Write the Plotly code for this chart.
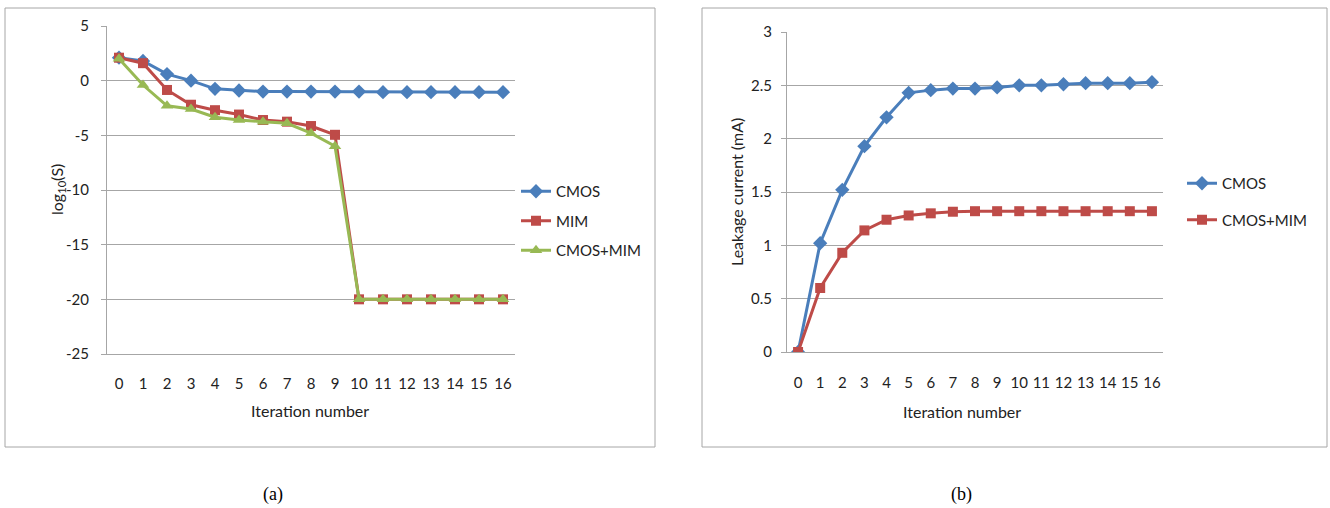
import plotly.graph_objects as go

iterations = list(range(17))
tick_labels = [str(i) for i in iterations]

# Chart (a): log10(S)
y_ticks_a = [5, 0, -5, -10, -15, -20, -25]
y_tick_labels_a = ["5", "0", "-5", "-10", "-15", "-20", "-25"]
cmos_a = [2.1, 1.8, 0.6, 0.0, -0.75, -0.9, -1.0, -1.0, -1.0, -1.0, -1.0, -1.05, -1.05, -1.05, -1.05, -1.05, -1.05]
mim_a = [2.1, 1.6, -0.85, -2.2, -2.7, -3.1, -3.6, -3.75, -4.15, -4.95, -20, -20, -20, -20, -20, -20, -20]
cmos_mim_a = [2.0, -0.4, -2.3, -2.6, -3.35, -3.6, -3.75, -3.9, -4.8, -6.0, -20, -20, -20, -20, -20, -20, -20]

# Chart (b): leakage current (mA)
y_ticks_b = [0, 0.5, 1, 1.5, 2, 2.5, 3]
y_tick_labels_b = ["0", "0.5", "1", "1.5", "2", "2.5", "3"]
cmos_b = [0.0, 1.02, 1.52, 1.93, 2.2, 2.43, 2.455, 2.47, 2.47, 2.48, 2.5, 2.5, 2.51, 2.52, 2.52, 2.52, 2.53]
cmos_mim_b = [0.0, 0.6, 0.93, 1.14, 1.24, 1.28, 1.30, 1.315, 1.32, 1.32, 1.32, 1.32, 1.32, 1.32, 1.32, 1.32, 1.32]

BLUE = "#4A7EBB"
RED = "#BE4B48"
GREEN = "#98B954"
GRID = "#A6A6A6"
TXT = "#222222"
FONT = "Lato"
W, H = 1330, 508

fig = go.Figure()

def add(x, y, name, color, symbol, size, xa, ya, legend, group):
    fig.add_trace(go.Scatter(
        x=x, y=y, name=name, mode="lines+markers",
        line=dict(color=color, width=3),
        marker=dict(symbol=symbol, size=size, color=color),
        xaxis=xa, yaxis=ya, legend=legend, legendgroup=group,
    ))

add(iterations, cmos_a, "CMOS", BLUE, "diamond", 11, "x", "y", "legend", "a1")
add(iterations, mim_a, "MIM", RED, "square", 10, "x", "y", "legend", "a2")
add(iterations, cmos_mim_a, "CMOS+MIM", GREEN, "triangle-up", 11, "x", "y", "legend", "a3")
add(iterations, cmos_b, "CMOS", BLUE, "diamond", 11, "x2", "y2", "legend2", "b1")
add(iterations, cmos_mim_b, "CMOS+MIM", RED, "square", 10, "x2", "y2", "legend2", "b2")

def px_x(p):
    return p / W

def px_y(p):
    return 1 - p / H

axis_common = dict(
    showline=True, linecolor=GRID, linewidth=1, mirror=False,
    tickfont=dict(family=FONT, size=15, color=TXT),
    zeroline=False, automargin=False,
)

fig.update_layout(
    width=W, height=H,
    margin=dict(l=0, r=0, t=0, b=0, autoexpand=False),
    paper_bgcolor="white", plot_bgcolor="white",
    font=dict(family=FONT, size=15, color=TXT),
    xaxis=dict(domain=[px_x(107), px_x(515)], range=[-0.5, 16.5],
               tickmode="array", tickvals=iterations, ticktext=tick_labels,
               showgrid=False, ticks="", ticklabelstandoff=16, anchor="y",
               **axis_common),
    yaxis=dict(domain=[px_y(354), px_y(26)], range=[-25, 5],
               tickmode="array", tickvals=y_ticks_a, ticktext=y_tick_labels_a,
               showgrid=True, gridcolor=GRID, gridwidth=1,
               ticks="outside", ticklen=5, tickcolor=GRID, ticklabelstandoff=9,
               anchor="x",
               **axis_common),
    xaxis2=dict(domain=[px_x(787), px_x(1163)], range=[-0.5, 16.5],
                tickmode="array", tickvals=iterations, ticktext=tick_labels,
                showgrid=False, ticks="", ticklabelstandoff=17, anchor="y2",
                **axis_common),
    yaxis2=dict(domain=[px_y(352), px_y(32)], range=[0, 3],
                tickmode="array", tickvals=y_ticks_b, ticktext=y_tick_labels_b,
                showgrid=True, gridcolor=GRID, gridwidth=1,
                ticks="outside", ticklen=5, tickcolor=GRID, ticklabelstandoff=6,
                anchor="x2",
                **axis_common),
    legend=dict(x=px_x(516), y=px_y(175), xanchor="left", yanchor="top",
                font=dict(family=FONT, size=15, color=TXT),
                bgcolor="rgba(0,0,0,0)", tracegroupgap=7, itemwidth=30),
    legend2=dict(x=px_x(1182), y=px_y(167), xanchor="left", yanchor="top",
                 font=dict(family=FONT, size=15, color=TXT),
                 bgcolor="rgba(0,0,0,0)", tracegroupgap=14, itemwidth=30),
    showlegend=True,
)

def note(text, x, y, size, family=FONT, color=TXT, angle=0):
    fig.add_annotation(text=text, x=px_x(x), y=px_y(y), xref="paper", yref="paper",
                       xanchor="center", yanchor="middle", textangle=angle,
                       showarrow=False, font=dict(family=family, size=size, color=color))

# axis titles
note("Iteration number", 310, 410, 16)
note("Iteration number", 962, 411, 16)
note("log<sub>10</sub>(S)", 57, 190, 16, angle=-90)
note("Leakage current (mA)", 736, 192, 16, angle=-90)

# captions
note("(a)", 273, 494, 18, family="Liberation Serif", color="#000")
note("(b)", 962, 494, 18, family="Liberation Serif", color="#000")

# outer chart borders
for x0, x1 in [(5, 655), (702, 1327)]:
    fig.add_shape(type="rect", xref="paper", yref="paper",
                  x0=px_x(x0), x1=px_x(x1), y0=px_y(447), y1=px_y(8),
                  line=dict(color=GRID, width=1), fillcolor="rgba(0,0,0,0)", layer="below")

fig.write_html("out.html", config={"displayModeBar": False},
               post_script="document.body.style.margin='0';document.body.style.overflow='hidden';")
